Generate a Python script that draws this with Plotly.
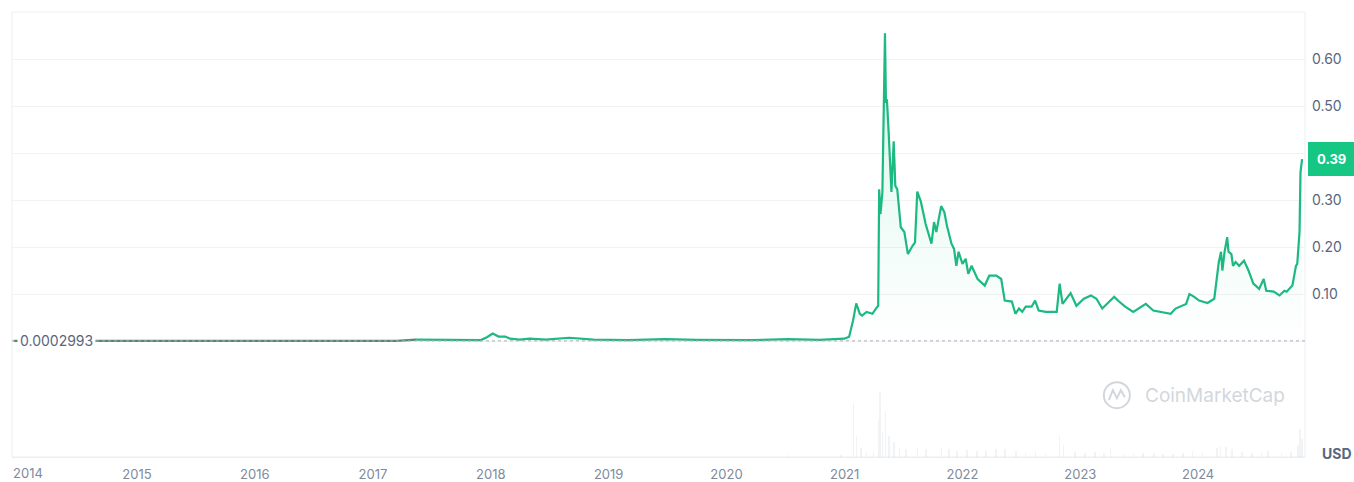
import plotly.graph_objects as go

# ---------------- data ----------------
price_dates = [
    "2013-12-15", "2014-01-20", "2014-03-01", "2014-06-01", "2014-09-01", "2015-01-01",
    "2015-06-01", "2016-01-01", "2016-06-01", "2017-01-01", "2017-03-15", "2017-05-15",
    "2017-08-01", "2017-10-15", "2017-12-01", "2017-12-20", "2018-01-07", "2018-01-25",
    "2018-02-15", "2018-03-01", "2018-04-01", "2018-05-01", "2018-06-20", "2018-09-01",
    "2018-10-15", "2018-11-15", "2019-03-01", "2019-06-25", "2019-10-01", "2020-03-15",
    "2020-07-10", "2020-10-15", "2020-12-31", "2021-01-15", "2021-01-27", "2021-02-06",
    "2021-02-17", "2021-02-24", "2021-03-10", "2021-03-28", "2021-04-08", "2021-04-15",
    "2021-04-18", "2021-04-22", "2021-04-28", "2021-05-06", "2021-05-09", "2021-05-12",
    "2021-05-18", "2021-05-26", "2021-06-02", "2021-06-07", "2021-06-13", "2021-06-24",
    "2021-07-05", "2021-07-16", "2021-07-30", "2021-08-07", "2021-08-14", "2021-08-25",
    "2021-09-09", "2021-09-27", "2021-10-05", "2021-10-12", "2021-10-27", "2021-11-06",
    "2021-11-14", "2021-11-28", "2021-12-06", "2021-12-13", "2021-12-20", "2022-01-01",
    "2022-01-11", "2022-01-19", "2022-01-29", "2022-02-17", "2022-03-11", "2022-03-25",
    "2022-04-16", "2022-05-01", "2022-05-12", "2022-06-03", "2022-06-14", "2022-06-25",
    "2022-07-05", "2022-07-16", "2022-08-03", "2022-08-14", "2022-08-25", "2022-09-16",
    "2022-10-20", "2022-10-29", "2022-11-07", "2022-11-18", "2022-12-02", "2022-12-20",
    "2023-01-12", "2023-02-03", "2023-02-20", "2023-03-10", "2023-04-01", "2023-04-16",
    "2023-05-01", "2023-05-20", "2023-06-14", "2023-07-09", "2023-07-23", "2023-08-15",
    "2023-09-10", "2023-10-08", "2023-10-23", "2023-11-10", "2023-11-25", "2023-12-05",
    "2023-12-20", "2024-01-04", "2024-01-30", "2024-02-20", "2024-03-05", "2024-03-12",
    "2024-03-16", "2024-03-23", "2024-03-31", "2024-04-04", "2024-04-13", "2024-04-18",
    "2024-04-26", "2024-05-07", "2024-05-22", "2024-06-05", "2024-06-20", "2024-07-08",
    "2024-07-22", "2024-07-30", "2024-08-22", "2024-09-09", "2024-09-24", "2024-10-01",
    "2024-10-19", "2024-10-30", "2024-11-03", "2024-11-10", "2024-11-13", "2024-11-18",
]
price_values = [
    0.0002993, 0.0012, 0.0006, 0.0004, 0.0002, 0.00015,
    0.00014, 0.00015, 0.0003, 0.0002, 0.0004, 0.003,
    0.002, 0.0012, 0.002, 0.008, 0.016, 0.0095,
    0.0095, 0.005, 0.003, 0.005, 0.003, 0.007,
    0.005, 0.003, 0.002, 0.004, 0.0025, 0.0017,
    0.004, 0.0026, 0.005, 0.009, 0.043, 0.08,
    0.058, 0.054, 0.062, 0.058, 0.069, 0.075,
    0.323, 0.27, 0.317, 0.655, 0.507, 0.514,
    0.435, 0.317, 0.425, 0.33, 0.323, 0.242,
    0.232, 0.185, 0.202, 0.21, 0.318, 0.297,
    0.249, 0.207, 0.253, 0.232, 0.287, 0.274,
    0.245, 0.207, 0.196, 0.16, 0.19, 0.164,
    0.175, 0.143, 0.16, 0.132, 0.118, 0.139,
    0.139, 0.132, 0.086, 0.084, 0.058, 0.069,
    0.062, 0.073, 0.073, 0.086, 0.065, 0.062,
    0.062, 0.122, 0.079, 0.09, 0.102, 0.075,
    0.09, 0.097, 0.09, 0.069, 0.084, 0.094,
    0.084, 0.073, 0.062, 0.073, 0.079, 0.065,
    0.062, 0.058, 0.069, 0.075, 0.079, 0.10,
    0.094, 0.086, 0.081, 0.09, 0.168, 0.19,
    0.15, 0.19, 0.221, 0.19, 0.185, 0.16,
    0.168, 0.16, 0.171, 0.15, 0.122, 0.111,
    0.132, 0.107, 0.105, 0.097, 0.107, 0.105,
    0.118, 0.16, 0.164, 0.232, 0.359, 0.387,
]
split_date = "2017-05-15"  # earlier part drawn in the muted colour

vol_dates = [
    "2020-07-08", "2020-12-20", "2021-01-29", "2021-02-07", "2021-02-20", "2021-03-10",
    "2021-04-01", "2021-04-16", "2021-04-20", "2021-04-28", "2021-05-08", "2021-05-19",
    "2021-06-02", "2021-06-20", "2021-07-10", "2021-08-15", "2021-09-10", "2021-10-28",
    "2021-11-20", "2021-12-15", "2022-01-15", "2022-02-15", "2022-03-15", "2022-04-15",
    "2022-05-12", "2022-06-15", "2022-07-15", "2022-08-15", "2022-09-15", "2022-10-29",
    "2022-11-10", "2022-12-15", "2023-01-15", "2023-02-15", "2023-03-15", "2023-04-04",
    "2023-05-15", "2023-06-15", "2023-07-15", "2023-08-17", "2023-09-15", "2023-10-15",
    "2023-11-15", "2023-12-15", "2024-01-15", "2024-02-28", "2024-03-10", "2024-03-28",
    "2024-04-15", "2024-05-15", "2024-06-15", "2024-07-15", "2024-08-05", "2024-09-15",
    "2024-10-15", "2024-11-05", "2024-11-12", "2024-11-18",
]
vol_values = [
    0.3, 0.3, 8.8, 3.5, 1.5, 0.8,
    0.9, 6.0, 10.6, 4.0, 7.5, 3.5,
    2.5, 1.5, 1.2, 1.6, 1.3, 1.6,
    1.2, 1.0, 1.1, 1.0, 0.9, 1.2,
    1.3, 0.9, 0.6, 1.0, 0.5, 3.6,
    2.0, 0.8, 0.7, 0.8, 0.7, 1.5,
    0.5, 0.5, 0.6, 0.6, 0.4, 0.4,
    0.7, 0.9, 0.7, 1.5, 1.8, 1.6,
    1.2, 0.8, 0.7, 0.7, 1.0, 0.6,
    0.8, 2.0, 4.5, 3.0,
]

y_ticks = [-0.1, 0.0, 0.1, 0.2, 0.3, 0.4, 0.5, 0.6, 0.7]
y_ticktext = ["", "", "0.10", "0.20", "0.30", "", "0.50", "0.60", ""]
x_ticks = [f"{y}-01-01" for y in range(2014, 2025)]
x_ticktext = [str(y) for y in range(2014, 2025)]

open_price = price_values[0]
last_price = price_values[-1]

GREEN = "#16c784"
LINE_GREEN = "#1cb981"
MUTED = "#4f8a74"
GREY_TXT = "#58667e"
LIGHT_TXT = "#808a9d"
GRID = "#f1f2f4"

# split index
k = max(i for i, d in enumerate(price_dates) if d <= split_date)

fig = go.Figure()

fig.add_trace(go.Bar(
    x=vol_dates, y=vol_values, yaxis="y2", xaxis="x",
    marker=dict(color="rgba(200,206,216,0.25)", line=dict(width=0)),
    width=5 * 86400000, showlegend=False, hoverinfo="skip",
))

fig.add_trace(go.Scatter(
    x=price_dates[k:], y=price_values[k:], mode="lines",
    line=dict(color=LINE_GREEN, width=2.2),
    fill="tozeroy",
    fillgradient=dict(type="vertical", start=0, stop=0.66,
                      colorscale=[[0, "rgba(22,199,132,0.0)"], [1, "rgba(22,199,132,0.17)"]]),
    showlegend=False,
))
fig.add_trace(go.Scatter(
    x=price_dates[:k + 1], y=price_values[:k + 1], mode="lines",
    line=dict(color=MUTED, width=2.2), showlegend=False,
))

# first year label is drawn separately, nudged inside the frame
axis_ticktext = [""] + x_ticktext[1:]

fig.update_layout(
    width=1354, height=482,
    margin=dict(l=12, r=49, t=12, b=25, autoexpand=False),
    paper_bgcolor="white", plot_bgcolor="white",
    font=dict(family="Inter, Roboto, sans-serif", color=GREY_TXT),
    bargap=0,
    xaxis=dict(
        type="date", range=["2013-12-10", "2024-11-27"], anchor="y2", automargin=False,
        tickvals=x_ticks, ticktext=axis_ticktext, showgrid=False, zeroline=False,
        ticks="", tickfont=dict(size=13, color=LIGHT_TXT), ticklabelstandoff=5,
        ticklabeloverflow="allow",
        showline=True, linecolor="#eceef1", linewidth=1,
    ),
    yaxis=dict(
        domain=[0.155, 1.0], range=[-0.1, 0.7], side="right", anchor="x", automargin=False,
        tickvals=y_ticks, ticktext=y_ticktext, showgrid=True, gridcolor=GRID,
        gridwidth=1, zeroline=False, ticks="", tickfont=dict(size=14, color=GREY_TXT),
        ticklabelstandoff=6, ticklabeloverflow="allow",
    ),
    yaxis2=dict(
        domain=[0.0, 0.15], range=[0, 11], anchor="x", showgrid=False, automargin=False,
        zeroline=False, showticklabels=False, ticks="",
    ),
)

fig.add_annotation(xref="x", yref="paper", x=x_ticks[0], y=0, xanchor="center", yanchor="top",
                   xshift=9, yshift=-6, text=x_ticktext[0], showarrow=False,
                   font=dict(size=13, color=LIGHT_TXT))

# border of the chart frame
fig.add_shape(type="rect", xref="paper", yref="paper", x0=0, x1=1, y0=0, y1=1,
              line=dict(color="#eceef1", width=1), layer="below")

# dotted open-price line
fig.add_shape(type="line", xref="paper", yref="y", x0=0, x1=1, y0=open_price, y1=open_price,
              line=dict(color="#a7aebb", width=1, dash="dot"), layer="above")

# open price label
fig.add_annotation(xref="paper", yref="y", x=0, y=open_price, xanchor="left", yanchor="middle",
                   xshift=5, text="0.0002993", showarrow=False, bgcolor="white", borderpad=2,
                   font=dict(size=14, color=GREY_TXT))

# last price badge
fig.add_annotation(xref="paper", yref="y", x=1, y=last_price, xanchor="left", yanchor="middle",
                   xshift=3, text=f"<b>{last_price:.2f}</b>", showarrow=False, bgcolor=GREEN,
                   bordercolor=GREEN, borderpad=8, font=dict(size=13, color="white"))

# currency label
fig.add_annotation(xref="paper", yref="paper", x=1, y=0, xanchor="left", yanchor="middle",
                   xshift=15, yshift=4, text="<b>USD</b>", showarrow=False,
                   font=dict(size=14, color=GREY_TXT))

# watermark
fig.add_annotation(xref="paper", yref="paper", x=0.8747, y=0.139, xanchor="left", yanchor="middle",
                   text="CoinMarketCap", showarrow=False,
                   font=dict(size=19, color="#d3d7dd", family="Inter, sans-serif"))
fig.add_shape(type="circle", xref="paper", yref="paper", xsizemode="pixel", ysizemode="pixel",
              xanchor=0.8545, yanchor=0.139, x0=-13, x1=13, y0=-13, y1=13,
              line=dict(color="#d3d7dd", width=2))
fig.add_shape(type="path", xref="paper", yref="paper", xsizemode="pixel", ysizemode="pixel",
              xanchor=0.8545, yanchor=0.139,
              path="M -8 -5 L -4 5 L 0 -3 L 4 5 L 8 -2",
              line=dict(color="#d3d7dd", width=2))

fig.write_html(
    "out.html",
    config={"displayModeBar": False},
    post_script="document.documentElement.style.margin='0';document.body.style.margin='0';"
                "document.body.style.padding='0';document.body.style.overflow='hidden';",
)
